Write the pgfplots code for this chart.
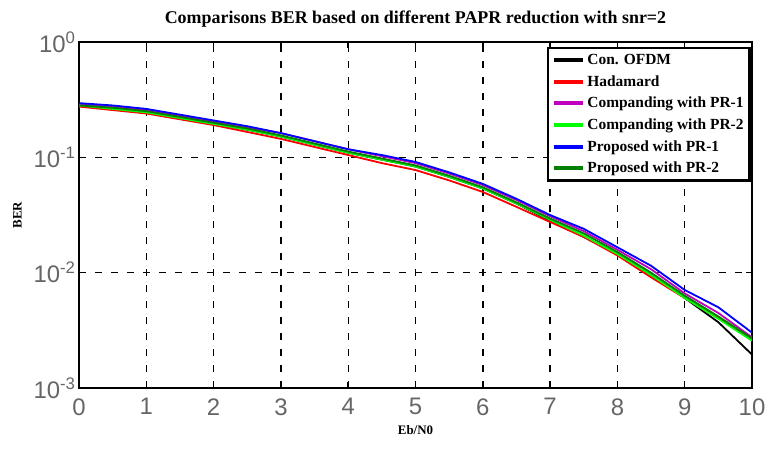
\documentclass[border=0pt]{standalone}
\usepackage{fontspec}
\setmainfont{Liberation Serif}
\newfontfamily\ticksf{Liberation Sans}
\usepackage{pgfplots}
\pgfplotsset{compat=1.18}
\definecolor{cmag}{rgb}{0.75,0,0.75}
\definecolor{clgreen}{rgb}{0,1,0}
\definecolor{cdgreen}{rgb}{0,0.5,0}
\begin{document}
\begin{tikzpicture}
\useasboundingbox (-79bp,-62bp) rectangle (686bp,388bp);
\begin{axis}[
  scale only axis,
  width=673bp, height=346bp,
  ymode=log,
  xmin=0, xmax=10, ymin=1e-3, ymax=1,
  xtick={0,1,...,10},
  ytick={1,0.1,0.01,0.001},
  yticklabels={10\textsuperscript{0},10\textsuperscript{-1},10\textsuperscript{-2},10\textsuperscript{-3}},
  yminorticks=false,
  tick align=inside,
  major tick length=6bp,
  tick style={black, line width=1.5bp},
  axis line style={line width=2.5bp},
  grid=major,
  major grid style={black, dash pattern=on 7bp off 9bp, line width=1.4bp},
  ticklabel style={font=\ticksf\fontsize{24}{24}\selectfont, text=black!60},
  /pgf/number format/assume math mode=true,
  xticklabel style={yshift=-7bp},
  title={\bfseries Comparisons BER based on different PAPR reduction with snr=2},
  title style={font=\fontsize{18}{18}\selectfont, at={(0.5,1)}, yshift=5bp},
  xlabel={\bfseries Eb/N0},
  ylabel={\bfseries BER},
  xlabel style={font=\fontsize{13}{13}\selectfont, yshift=-3bp},
  ylabel style={font=\fontsize{13}{13}\selectfont, yshift=5bp},
  legend style={at={(0.998,0.985)}, anchor=north east, draw=black, line width=2.2bp,
    font=\bfseries\fontsize{15.5}{15.5}\selectfont, row sep=5.5bp, inner sep=4bp,
    cells={anchor=west}},
  legend image post style={line width=4bp},
  legend image code/.code={\draw[#1] (0cm,0cm) -- (1.05cm,0cm);},
  every axis plot/.append style={line width=1.8bp},
]
\addplot[black] coordinates {(0,0.2818)(0.5,0.2630)(1,0.2455)(1.5,0.2188)(2,0.1950)(2.5,0.1738)(3,0.1514)(3.5,0.1288)(4,0.1096)(4.5,0.0955)(5,0.0832)(5.5,0.0676)(6,0.0537)(6.5,0.0398)(7,0.0282)(7.5,0.0204)(8,0.0145)(8.5,0.00955)(9,0.00603)(9.5,0.00372)(10,0.00195)};
\addlegendentry{Con. OFDM}
\addplot[red] coordinates {(0,0.2754)(0.5,0.2570)(1,0.2399)(1.5,0.2138)(2,0.1905)(2.5,0.1660)(3,0.1445)(3.5,0.1230)(4,0.1047)(4.5,0.0891)(5,0.0776)(5.5,0.0631)(6,0.0501)(6.5,0.0372)(7,0.0275)(7.5,0.0204)(8,0.0141)(8.5,0.00912)(9,0.00603)(9.5,0.00407)(10,0.00269)};
\addlegendentry{Hadamard}
\addplot[cmag] coordinates {(0,0.2884)(0.5,0.2754)(1,0.2570)(1.5,0.2291)(2,0.2042)(2.5,0.1820)(3,0.1622)(3.5,0.1380)(4,0.1175)(4.5,0.1023)(5,0.0891)(5.5,0.0724)(6,0.0575)(6.5,0.0427)(7,0.0309)(7.5,0.0229)(8,0.0158)(8.5,0.01072)(9,0.00661)(9.5,0.00447)(10,0.00275)};
\addlegendentry{Companding with PR-1}
\addplot[clgreen] coordinates {(0,0.2818)(0.5,0.2630)(1,0.2455)(1.5,0.2188)(2,0.1950)(2.5,0.1738)(3,0.1514)(3.5,0.1288)(4,0.1096)(4.5,0.0955)(5,0.0832)(5.5,0.0676)(6,0.0537)(6.5,0.0398)(7,0.0288)(7.5,0.0209)(8,0.0145)(8.5,0.00955)(9,0.00603)(9.5,0.00398)(10,0.00257)};
\addlegendentry{Companding with PR-2}
\addplot[blue] coordinates {(0,0.2951)(0.5,0.2818)(1,0.2630)(1.5,0.2344)(2,0.2089)(2.5,0.1862)(3,0.1622)(3.5,0.1380)(4,0.1175)(4.5,0.1047)(5,0.0912)(5.5,0.0741)(6,0.0589)(6.5,0.0437)(7,0.0316)(7.5,0.0240)(8,0.0166)(8.5,0.01148)(9,0.00708)(9.5,0.00501)(10,0.00302)};
\addlegendentry{Proposed with PR-1}
\addplot[cdgreen] coordinates {(0,0.2818)(0.5,0.2692)(1,0.2512)(1.5,0.2239)(2,0.1995)(2.5,0.1778)(3,0.1549)(3.5,0.1318)(4,0.1122)(4.5,0.0977)(5,0.0851)(5.5,0.0692)(6,0.0550)(6.5,0.0407)(7,0.0295)(7.5,0.0219)(8,0.0151)(8.5,0.0100)(9,0.00631)(9.5,0.00417)(10,0.00269)};
\addlegendentry{Proposed with PR-2}
\end{axis}
\end{tikzpicture}
\end{document}
